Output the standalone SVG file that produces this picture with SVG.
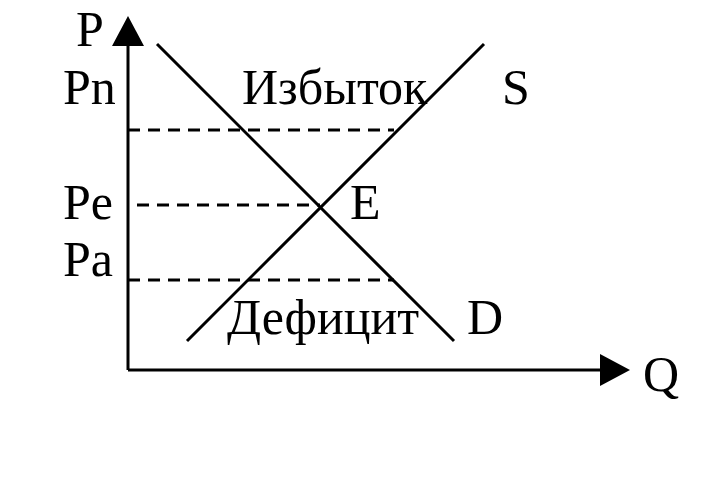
<svg xmlns="http://www.w3.org/2000/svg" width="711" height="480" viewBox="0 0 711 480">
<style>
.ln{stroke:#000;stroke-width:3;fill:none}
.ds{stroke:#000;stroke-width:3;fill:none;stroke-dasharray:12 8}
</style>
<rect width="711" height="480" fill="#fff"/>
<g id="connectors">
<path class="ln" d="M128 370V44"/>
<polygon points="128,16 112,46 144,46" fill="#000"/>
<path class="ln" d="M128 370H602"/>
<polygon points="630,370 600,354 600,386" fill="#000"/>
<path class="ln" d="M157 44L454 341"/>
<path class="ln" d="M187 341L484 44"/>
<path class="ds" d="M128 130H394"/>
<path class="ds" d="M137 205H320"/>
<path class="ds" d="M128 280H394"/>
</g>
<g id="labels" font-family="Liberation Serif, Times New Roman, serif" font-size="50" fill="#000">
<text x="76" y="46">P</text>
<text x="63" y="104">Pn</text>
<text x="63" y="219">Pe</text>
<text x="63" y="276">Pa</text>
<text x="242" y="104">Избыток</text>
<text x="502" y="104">S</text>
<text x="350" y="219">E</text>
<text x="227" y="334">Дефицит</text>
<text x="467" y="334">D</text>
<text x="643" y="391">Q</text>
</g>
</svg>
